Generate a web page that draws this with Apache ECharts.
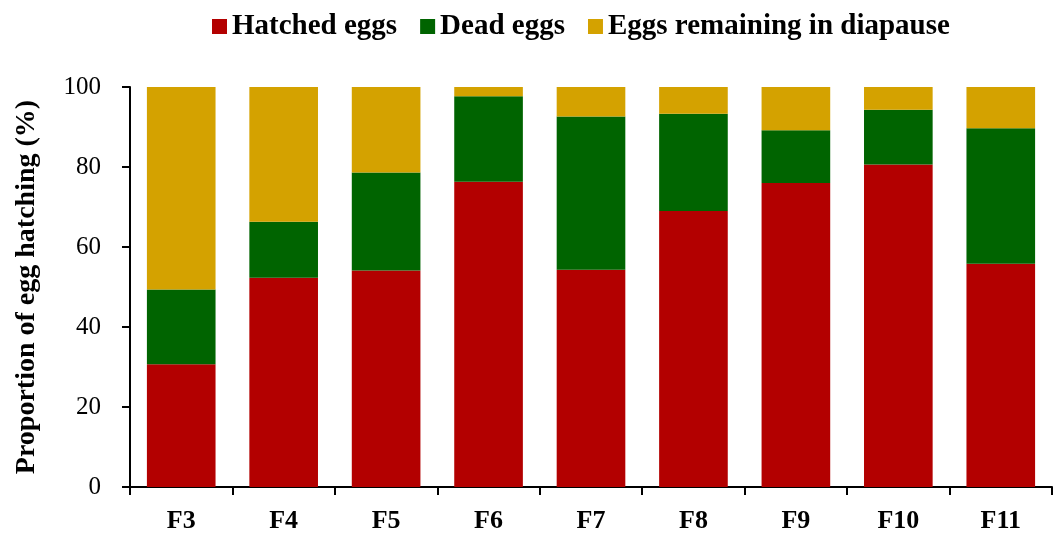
<!DOCTYPE html>
<html>
<head>
<meta charset="utf-8">
<script src="https://cdn.jsdelivr.net/npm/echarts@6/dist/echarts.min.js"></script>
<style>
  html, body { margin: 0; padding: 0; background: #fff; }
  #chart { width: 1059px; height: 534px; }
</style>
</head>
<body>
<div id="chart"></div>
<script>
// generations
const categories = ['F3', 'F4', 'F5', 'F6', 'F7', 'F8', 'F9', 'F10', 'F11']
// proportions (%)
const hatched = [30.7, 52.3, 54.1, 76.3, 54.3, 69.0, 76.0, 80.6, 55.8]
const dead = [18.7, 14.0, 24.5, 21.4, 38.3, 24.3, 13.2, 13.7, 33.9]
const diapause = [50.6, 33.7, 21.4, 2.3, 7.4, 6.7, 10.8, 5.7, 10.3]
const yTicks = [0, 20, 40, 60, 80, 100]

const serif = '"Liberation Serif", "Times New Roman", serif'

const myChart = echarts.init(document.getElementById('chart'))

const barSeries = (name, data, color) => ({
  name: name,
  type: 'bar',
  stack: 'total',
  data: data,
  barWidth: '67%',
  itemStyle: { color: color },
})

myChart.setOption({
  animation: false,
  legend: {
    top: 7,
    left: 207,
    itemWidth: 15,
    itemHeight: 15,
    itemGap: 23,
    icon: 'rect',
    textStyle: {
      fontFamily: serif,
      fontWeight: 'bold',
      fontSize: 29,
      color: '#000'
    },
    data: ['Hatched eggs', 'Dead eggs', 'Eggs remaining in diapause']
  },
  grid: {
    left: 130,
    right: 7,
    top: 87,
    bottom: 47
  },
  xAxis: {
    type: 'category',
    data: categories,
    axisLine: { lineStyle: { color: '#000', width: 2 } },
    axisTick: { show: true, length: 8, lineStyle: { color: '#000', width: 2 } },
    axisLabel: {
      fontFamily: serif,
      fontWeight: 'bold',
      fontSize: 26,
      color: '#000',
      margin: 21
    }
  },
  yAxis: {
    type: 'value',
    min: yTicks[0],
    max: yTicks[yTicks.length - 1],
    interval: 20,
    name: 'Proportion of egg hatching (%)',
    nameLocation: 'middle',
    nameGap: 89,
    nameTextStyle: {
      fontFamily: serif,
      fontWeight: 'bold',
      fontSize: 28,
      color: '#000'
    },
    splitLine: { show: false },
    axisLine: { show: true, lineStyle: { color: '#000', width: 2 } },
    axisTick: { show: true, length: 8, lineStyle: { color: '#000', width: 2 } },
    axisLabel: {
      fontFamily: serif,
      fontSize: 25,
      color: '#000',
      margin: 29
    }
  },
  series: [
    barSeries('Hatched eggs', hatched, '#b30000'),
    barSeries('Dead eggs', dead, '#006400'),
    barSeries('Eggs remaining in diapause', diapause, '#d4a200')
  ]
})
</script>
</body>
</html>
